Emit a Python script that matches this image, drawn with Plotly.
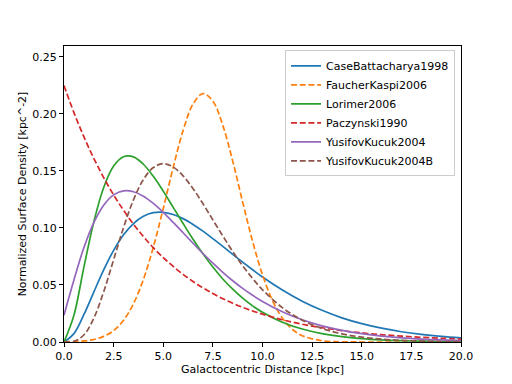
import plotly.graph_objects as go

# Galactocentric distance grid (kpc)
r = [0, 0.5, 1, 1.5, 2, 2.5, 3, 3.5, 4, 4.5, 5, 5.5, 6, 6.5, 7, 7.5, 8, 8.5, 9, 9.5, 10,
     11, 12, 13, 14, 15, 16, 17, 18, 19, 20]
r_fk = [0, 0.5, 1, 1.5, 2, 2.5, 3, 3.5, 4, 4.5, 5, 5.5, 6, 6.5, 7, 7.5, 8, 8.5, 9, 9.5, 10,
        10.5, 11, 11.5, 12, 13, 14, 15, 16, 17, 18, 19, 20]

case_battacharya1998 = [0, 0.00737, 0.02397, 0.04381, 0.06328, 0.08034, 0.0940, 0.1039, 0.1103, 0.1134,
                        0.1137, 0.1118, 0.1082, 0.1031, 0.0972, 0.0906, 0.0838, 0.0768, 0.0700, 0.0634,
                        0.0570, 0.0456, 0.0358, 0.0278, 0.0212, 0.0161, 0.0121, 0.0090, 0.00667, 0.00490, 0.00359]
faucher_kaspi2006 = [0.000133, 0.000367, 0.00094, 0.00223, 0.00491, 0.01005, 0.01906, 0.03357, 0.05486, 0.0832,
                     0.1171, 0.1530, 0.1855, 0.2087, 0.2179, 0.2112, 0.1900, 0.1586, 0.1228, 0.0883,
                     0.0589, 0.0365, 0.02098, 0.01119, 0.00554, 0.00108, 0.000158, 0.000017, 0.0, 0.0, 0.0, 0.0, 0.0]
lorimer2006 = [0, 0.02351, 0.06539, 0.1053, 0.1355, 0.1543, 0.1625, 0.1624, 0.1559, 0.1453,
               0.1323, 0.1181, 0.1039, 0.0901, 0.0773, 0.0657, 0.0553, 0.0463, 0.0384, 0.0317,
               0.0261, 0.01736, 0.01137, 0.00735, 0.00470, 0.00298, 0.00187, 0.00116, 0.00072, 0.00044, 0.00027]
paczynski1990 = [0.2249, 0.2012, 0.1801, 0.1611, 0.1442, 0.1290, 0.1155, 0.1033, 0.0925, 0.0827,
                 0.0740, 0.0663, 0.0593, 0.0531, 0.0475, 0.0425, 0.0380, 0.0340, 0.0304, 0.0272,
                 0.0244, 0.0195, 0.0156, 0.0125, 0.0100, 0.0080, 0.0064, 0.0052, 0.0041, 0.0033, 0.0026]
yusifov_kucuk2004 = [0.02351, 0.05440, 0.0826, 0.1047, 0.1200, 0.1290, 0.1325, 0.1318, 0.1278, 0.1215,
                     0.1137, 0.1049, 0.0958, 0.0866, 0.0776, 0.0691, 0.0611, 0.0537, 0.0470, 0.0410,
                     0.0356, 0.0265, 0.0195, 0.01419, 0.01024, 0.00733, 0.00521, 0.00368, 0.00259, 0.00181, 0.00126]
yusifov_kucuk2004b = [0, 0.000572, 0.006138, 0.02083, 0.04413, 0.07221, 0.1004, 0.1247, 0.1425, 0.1530,
                      0.1564, 0.1535, 0.1457, 0.1345, 0.1213, 0.1071, 0.0930, 0.0794, 0.0669, 0.0557,
                      0.0458, 0.0301, 0.01918, 0.01187, 0.00718, 0.00425, 0.00247, 0.00142, 0.00080, 0.000446, 0.000246]

x_ticks = [0, 2.5, 5, 7.5, 10, 12.5, 15, 17.5, 20]
x_ticktext = ["0.0", "2.5", "5.0", "7.5", "10.0", "12.5", "15.0", "17.5", "20.0"]
y_ticks = [0, 0.05, 0.10, 0.15, 0.20, 0.25]
y_ticktext = ["0.00", "0.05", "0.10", "0.15", "0.20", "0.25"]

series = [
    ("CaseBattacharya1998", r, case_battacharya1998, "#1f77b4", "solid"),
    ("FaucherKaspi2006", r_fk, faucher_kaspi2006, "#ff7f0e", "6px,2.7px"),
    ("Lorimer2006", r, lorimer2006, "#2ca02c", "solid"),
    ("Paczynski1990", r, paczynski1990, "#d62728", "6px,2.7px"),
    ("YusifovKucuk2004", r, yusifov_kucuk2004, "#9467bd", "solid"),
    ("YusifovKucuk2004B", r, yusifov_kucuk2004b, "#8c564b", "6px,2.7px"),
]

fig = go.Figure()
for name, xs, ys, color, dash in series:
    fig.add_trace(go.Scatter(x=xs, y=ys, mode="lines", name=name,
                             line=dict(color=color, width=1.7, dash=dash, shape="spline", smoothing=1.0)))

font = dict(family="DejaVu Sans", size=11, color="black")
# the page body adds an 8px offset, so margins compensate for it
fig.update_layout(
    width=512, height=384,
    margin=dict(l=56, r=59, t=38, b=50),
    paper_bgcolor="white", plot_bgcolor="white",
    font=font,
    showlegend=True,
    legend=dict(x=0.985, y=0.985, xanchor="right", yanchor="top",
                bgcolor="rgba(255,255,255,0.8)", bordercolor="#cccccc", borderwidth=1,
                font=dict(family="DejaVu Sans", size=11, color="black"),
                tracegroupgap=0, itemwidth=30),
)
fig.update_xaxes(range=[0, 20], tickvals=x_ticks, ticktext=x_ticktext,
                 showline=True, mirror=True, linecolor="black", linewidth=1,
                 ticks="outside", ticklen=4, tickcolor="black", showgrid=False, zeroline=False,
                 title=dict(text="Galactocentric Distance [kpc]", standoff=0, font=font))
fig.update_yaxes(range=[0, 0.2596], tickvals=y_ticks, ticktext=y_ticktext,
                 showline=True, mirror=True, linecolor="black", linewidth=1,
                 ticks="outside", ticklen=4, tickcolor="black", showgrid=False, zeroline=False,
                 title=dict(text="Normalized Surface Density [kpc^-2]", standoff=3, font=font))

fig.write_html("out.html")
